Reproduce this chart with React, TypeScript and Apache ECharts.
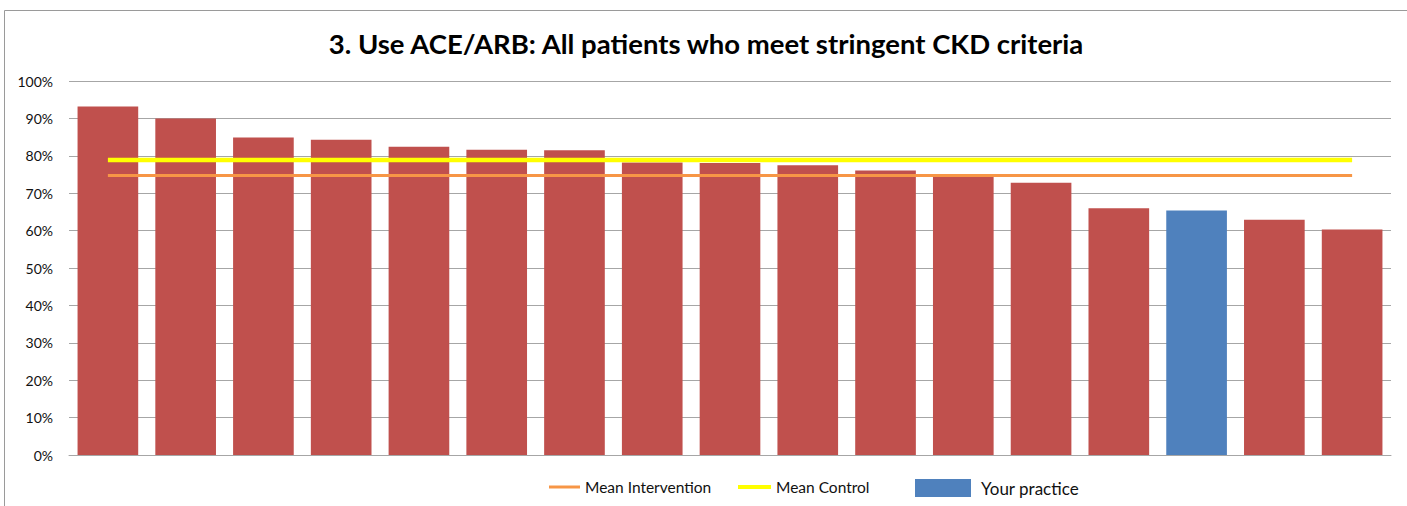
import React, { useEffect, useRef } from "react";
import * as echarts from "echarts";

const titleText = "3. Use ACE/ARB: All patients who meet stringent CKD criteria";
const categories = ["P1","P2","P3","P4","P5","P6","P7","P8","P9","P10","P11","P12","P13","P14","P15","P16","P17"];
const practiceValues = [93.2, 90.0, 84.9, 84.3, 82.4, 81.6, 81.5, 78.2, 78.1, 77.5, 76.1, 75.1, 72.8, 66.0, 65.4, 62.9, 60.3];
const yourPracticeIndex = 14;
const meanIntervention = 74.7;
const meanControl = 78.9;
const yTicks = [0, 10, 20, 30, 40, 50, 60, 70, 80, 90, 100];

const FONT = "Lato";

export default function App() {
  const ref = useRef<HTMLDivElement>(null);
  useEffect(() => {
    if (!ref.current) return;
    const chart = echarts.init(ref.current, null, { renderer: "svg" });
    const others = practiceValues.map((v, i) => (i === yourPracticeIndex ? "-" : v));
    const yours = practiceValues.map((v, i) => (i === yourPracticeIndex ? v : "-"));
    chart.setOption({
      animation: false,
      backgroundColor: "#ffffff",
      textStyle: { fontFamily: FONT },
      grid: { left: 69, right: 16, top: 81, bottom: 51, containLabel: false },
      xAxis: {
        type: "category",
        data: categories,
        axisLabel: { show: false },
        axisTick: { show: false },
        axisLine: { lineStyle: { color: "#a6a6a6", width: 1 } },
      },
      yAxis: {
        type: "value",
        min: yTicks[0],
        max: yTicks[yTicks.length - 1],
        interval: 10,
        axisLabel: { formatter: "{value}%", color: "#111", fontSize: 14, margin: 16, fontFamily: FONT },
        axisLine: { show: false },
        axisTick: { show: false },
        splitLine: { lineStyle: { color: "#a6a6a6", width: 1 } },
      },
      legend: [
        {
          data: [{ name: "Mean Intervention", icon: "rect", itemStyle: { color: "#F79646" } }],
          left: 549, top: 479, padding: 0, itemWidth: 31, itemHeight: 3,
          textStyle: { fontSize: 15.5, color: "#111", fontFamily: FONT },
          selectedMode: false,
        },
        {
          data: [{ name: "Mean Control", icon: "rect", itemStyle: { color: "#FFFF00" } }],
          left: 738, top: 479, padding: 0, itemWidth: 33, itemHeight: 4,
          textStyle: { fontSize: 15.5, color: "#111", fontFamily: FONT },
          selectedMode: false,
        },
        {
          data: [{ name: "Your practice", icon: "rect" }],
          left: 915, top: 479, padding: 0, itemWidth: 56, itemHeight: 18,
          textStyle: { fontSize: 17, color: "#111", fontFamily: FONT, padding: [0, 0, 0, 5] },
          selectedMode: false,
        },
      ],
      graphic: [
        {
          type: "rect",
          shape: { x: 4.5, y: 10.5, width: 1500, height: 600 },
          style: { fill: "none", stroke: "#9a9a9a", lineWidth: 1 },
          silent: true,
        },
        {
          type: "text",
          x: 706,
          y: 43,
          style: {
            text: titleText,
            fontFamily: FONT,
            fontWeight: "bold",
            fontSize: 27.5,
            fill: "#000",
            textAlign: "center",
            textVerticalAlign: "middle",
          },
        },
      ],
      series: [
        {
          name: "Practices",
          type: "bar",
          stack: "p",
          data: others,
          barCategoryGap: "22%",
          itemStyle: { color: "#C0504D" },
        },
        {
          name: "Your practice",
          type: "bar",
          stack: "p",
          data: yours,
          itemStyle: { color: "#4F81BD" },
        },
        {
          name: "Mean Intervention",
          type: "line",
          data: categories.map(() => meanIntervention),
          symbol: "none",
          lineStyle: { color: "#F79646", width: 3 },
          itemStyle: { color: "#F79646" },
          z: 5,
        },
        {
          name: "Mean Control",
          type: "line",
          data: categories.map(() => meanControl),
          symbol: "none",
          lineStyle: { color: "#FFFF00", width: 4.5 },
          itemStyle: { color: "#FFFF00" },
          z: 5,
        },
      ],
    });
    return () => chart.dispose();
  }, []);
  return (
    <div
      ref={ref}
      style={{ position: "fixed", left: 0, top: 0, width: 1407, height: 506, background: "#fff" }}
    />
  );
}
